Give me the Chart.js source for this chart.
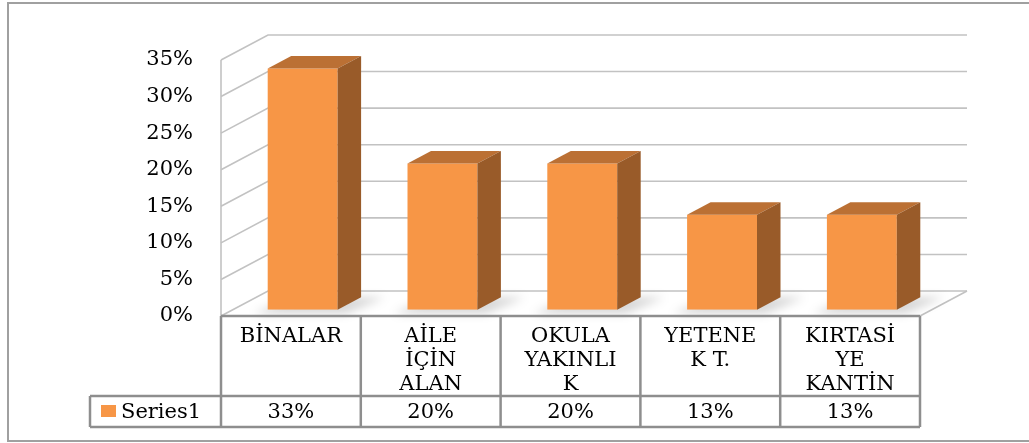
<!DOCTYPE html>
<html>
<head>
<meta charset="utf-8">
<script src="https://cdn.jsdelivr.net/npm/chart.js@4.4.1/dist/chart.umd.min.js"></script>
<style>
  html, body { margin: 0; padding: 0; background: #fff; overflow: hidden; }
  canvas { display: block; }
</style>
</head>
<body>
<canvas id="chart" width="1029" height="443"></canvas>
<script>
// --- Data ---
const categories = [
  ['BİNALAR'],
  ['AİLE', 'İÇİN', 'ALAN'],
  ['OKULA', 'YAKINLI', 'K'],
  ['YETENE', 'K T.'],
  ['KIRTASİ', 'YE', 'KANTİN']
];
const values = [33, 20, 20, 13, 13];
const valueLabels = ['33%', '20%', '20%', '13%', '13%'];
const seriesName = 'Series1';
const yMin = 0, yMax = 35, yStep = 5;

// --- Look ---
const FONT = 'DejaVu Serif';
const DX = 47, DY = -25;           // depth of the 3d box
const ORANGE = '#F79646';
const GRID = '#c2c2c2';
const TABLE_LINE = '#8e8e8e';

const box3d = {
  id: 'box3d',
  beforeDatasetsDraw(chart) {
    const { ctx, chartArea: a, scales: { y } } = chart;
    ctx.save();
    ctx.strokeStyle = GRID;
    ctx.lineWidth = 1.6;
    // left wall + back wall grid lines
    for (let v = yMin; v <= yMax; v += yStep) {
      const py = y.getPixelForValue(v);
      ctx.beginPath();
      ctx.moveTo(a.left, py);
      ctx.lineTo(a.left + DX, py + DY);
      ctx.lineTo(a.right + DX, py + DY);
      ctx.stroke();
    }
    // wall front edge and floor right edge
    ctx.beginPath();
    ctx.moveTo(a.left, y.getPixelForValue(yMax));
    ctx.lineTo(a.left, a.bottom);
    ctx.moveTo(a.right, a.bottom);
    ctx.lineTo(a.right + DX, a.bottom + DY);
    ctx.stroke();

    // soft shadows on the floor
    const meta = chart.getDatasetMeta(0);
    ctx.filter = 'blur(5px)';
    ctx.fillStyle = 'rgba(0,0,0,0.16)';
    meta.data.forEach(bar => {
      const l = bar.x - bar.width / 2 + DX * 0.25;
      const r = bar.x + bar.width / 2 + DX * 0.25;
      const b = bar.base + DY * 0.25;
      ctx.beginPath();
      ctx.moveTo(l - 14, b + 4);
      ctx.lineTo(r + 8, b + 4);
      ctx.lineTo(r + DX * 0.5 + 24, b + DY * 0.5);
      ctx.lineTo(l + DX * 0.5, b + DY * 0.5);
      ctx.closePath();
      ctx.fill();
    });
    ctx.filter = 'none';
    ctx.restore();

    // push the front faces into the box
    ctx.save();
    ctx.translate(DX * 0.25, DY * 0.25);
  },
  afterDatasetsDraw(chart) {
    const ctx = chart.ctx;
    ctx.restore();
    const meta = chart.getDatasetMeta(0);
    const dx = DX * 0.5, dy = DY * 0.5;
    ctx.save();
    meta.data.forEach(bar => {
      const l = bar.x - bar.width / 2 + DX * 0.25;
      const r = bar.x + bar.width / 2 + DX * 0.25;
      const t = bar.y + DY * 0.25;
      const b = bar.base + DY * 0.25;
      // top
      ctx.fillStyle = '#bb7034';
      ctx.beginPath();
      ctx.moveTo(l, t);
      ctx.lineTo(l + dx, t + dy);
      ctx.lineTo(r + dx, t + dy);
      ctx.lineTo(r, t);
      ctx.closePath();
      ctx.fill();
      // side
      ctx.fillStyle = '#995b29';
      ctx.beginPath();
      ctx.moveTo(r, t);
      ctx.lineTo(r + dx, t + dy);
      ctx.lineTo(r + dx, b + dy);
      ctx.lineTo(r, b);
      ctx.closePath();
      ctx.fill();
    });
    ctx.restore();
  },
  afterDraw(chart) {
    const { ctx, chartArea: a, scales: { x } } = chart;
    const n = values.length;
    const colW = (a.right - a.left) / n;
    const headBottom = 396, rowBottom = 427, legendLeft = 90;

    ctx.save();
    ctx.strokeStyle = TABLE_LINE;
    ctx.lineWidth = 2.5;
    ctx.beginPath();
    ctx.moveTo(a.left, a.bottom);
    ctx.lineTo(a.right, a.bottom);
    ctx.moveTo(legendLeft, headBottom);
    ctx.lineTo(a.right, headBottom);
    ctx.moveTo(legendLeft, rowBottom);
    ctx.lineTo(a.right, rowBottom);
    ctx.moveTo(legendLeft, headBottom);
    ctx.lineTo(legendLeft, rowBottom);
    for (let i = 0; i <= n; i++) {
      const px = a.left + i * colW;
      ctx.moveTo(px, a.bottom);
      ctx.lineTo(px, rowBottom);
    }
    ctx.stroke();

    // value row
    ctx.fillStyle = '#000';
    ctx.font = `21px "${FONT}"`;
    ctx.textAlign = 'center';
    ctx.textBaseline = 'middle';
    valueLabels.forEach((s, i) => {
      ctx.fillText(s, x.getPixelForValue(i), (headBottom + rowBottom) / 2 + 1);
    });

    // legend key
    ctx.fillStyle = ORANGE;
    ctx.fillRect(101, 405, 15, 12);
    ctx.fillStyle = '#000';
    ctx.textAlign = 'left';
    ctx.fillText(seriesName, 121, (headBottom + rowBottom) / 2 + 1);

    // outer frame
    ctx.strokeStyle = '#a0a0a0';
    ctx.lineWidth = 2;
    ctx.strokeRect(8, 3, 1040, 438);
    ctx.restore();
  }
};

new Chart(document.getElementById('chart'), {
  type: 'bar',
  data: {
    labels: categories,
    datasets: [{
      label: seriesName,
      data: values,
      backgroundColor: ORANGE,
      borderWidth: 0,
      categoryPercentage: 1,
      barPercentage: 0.5
    }]
  },
  options: {
    responsive: false,
    animation: false,
    events: [],
    layout: { padding: { left: 0, top: 60, right: 109, bottom: 47 } },
    plugins: {
      legend: { display: false },
      tooltip: { enabled: false }
    },
    scales: {
      x: {
        grid: { display: false, drawTicks: false },
        border: { display: false },
        ticks: {
          color: '#000',
          font: { family: FONT, size: 21, lineHeight: 1.15 },
          padding: 8,
          maxRotation: 0,
          autoSkip: false
        },
        afterFit: s => { s.height = 80; }
      },
      y: {
        min: yMin,
        max: yMax,
        grid: { display: false, drawTicks: false },
        border: { display: false },
        ticks: {
          stepSize: yStep,
          color: '#000',
          font: { family: FONT, size: 21 },
          padding: 28,
          callback: v => v + '%'
        },
        afterFit: s => { s.width = 221; }
      }
    }
  },
  plugins: [box3d]
});
</script>
</body>
</html>
